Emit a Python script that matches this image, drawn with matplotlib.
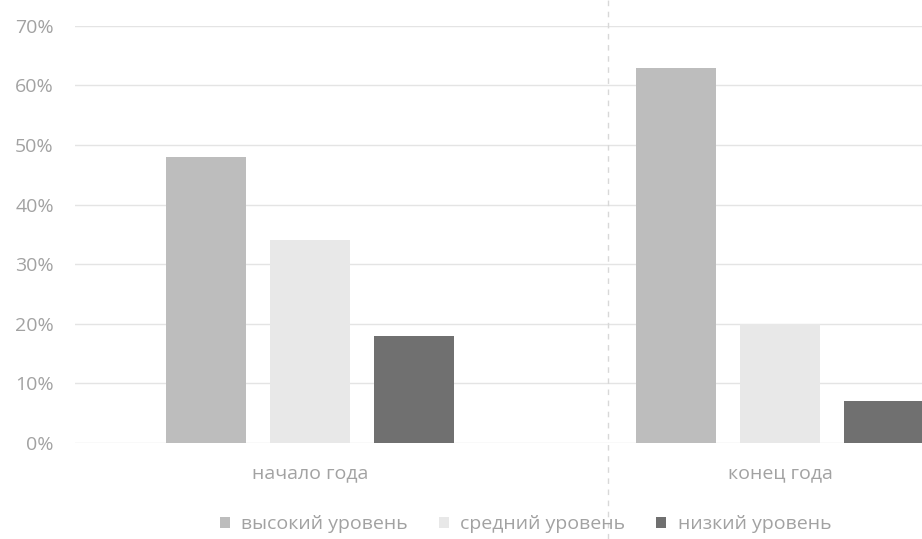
import numpy as np
import matplotlib
matplotlib.use("Agg")
import matplotlib.pyplot as plt
from matplotlib.lines import Line2D
from matplotlib.ticker import PercentFormatter

plt.rcParams['font.family'] = ['Open Sans', 'DejaVu Sans']

categories = ["начало года", "конец года"]
series = ["высокий уровень", "средний уровень", "низкий уровень"]
values = [
    [48, 63],   # высокий уровень
    [34, 20],   # средний уровень
    [18, 7],    # низкий уровень
]
colors = ["#bdbdbd", "#e8e8e8", "#707070"]
yticks = [0, 10, 20, 30, 40, 50, 60, 70]

text_color = "#a2a2a2"
grid_color = "#e4e4e4"

fig = plt.figure(figsize=(9.22, 5.39), dpi=100, facecolor="white")
ax = fig.add_axes([0.081, 0.178, 0.919, 0.774])

x = np.arange(len(categories))
width = 0.17
step = 0.221
for i, (name, vals, c) in enumerate(zip(series, values, colors)):
    ax.bar(x + (i - 1) * step, vals, width, color=c, label=name, zorder=3)

ax.set_ylim(0, 70)
ax.set_xlim(-0.5, 1.302)
ax.set_yticks(yticks)
ax.yaxis.set_major_formatter(PercentFormatter(decimals=0))
ax.set_xticks(x)
ax.set_xticklabels(categories)
ax.tick_params(axis="both", length=0, colors=text_color, labelsize=14)
ax.tick_params(axis="x", pad=15)
ax.tick_params(axis="y", pad=15)
ax.grid(axis="y", color=grid_color, linewidth=1, zorder=0)
for s in ax.spines.values():
    s.set_visible(False)

# faint fold line from the scan
fig.add_artist(Line2D([0.659, 0.659], [0.0, 1.0], transform=fig.transFigure,
                      color="#d8d8d8", linestyle=(0, (4, 4)), linewidth=1))

leg = fig.legend(loc="lower center", bbox_to_anchor=(0.570, -0.022), ncol=3,
                 frameon=False, fontsize=14, handlelength=0.5, handleheight=0.5,
                 columnspacing=1.6, handletextpad=0.6)
for t in leg.get_texts():
    t.set_color(text_color)

fig.savefig("out.png", dpi=100, facecolor="white")
